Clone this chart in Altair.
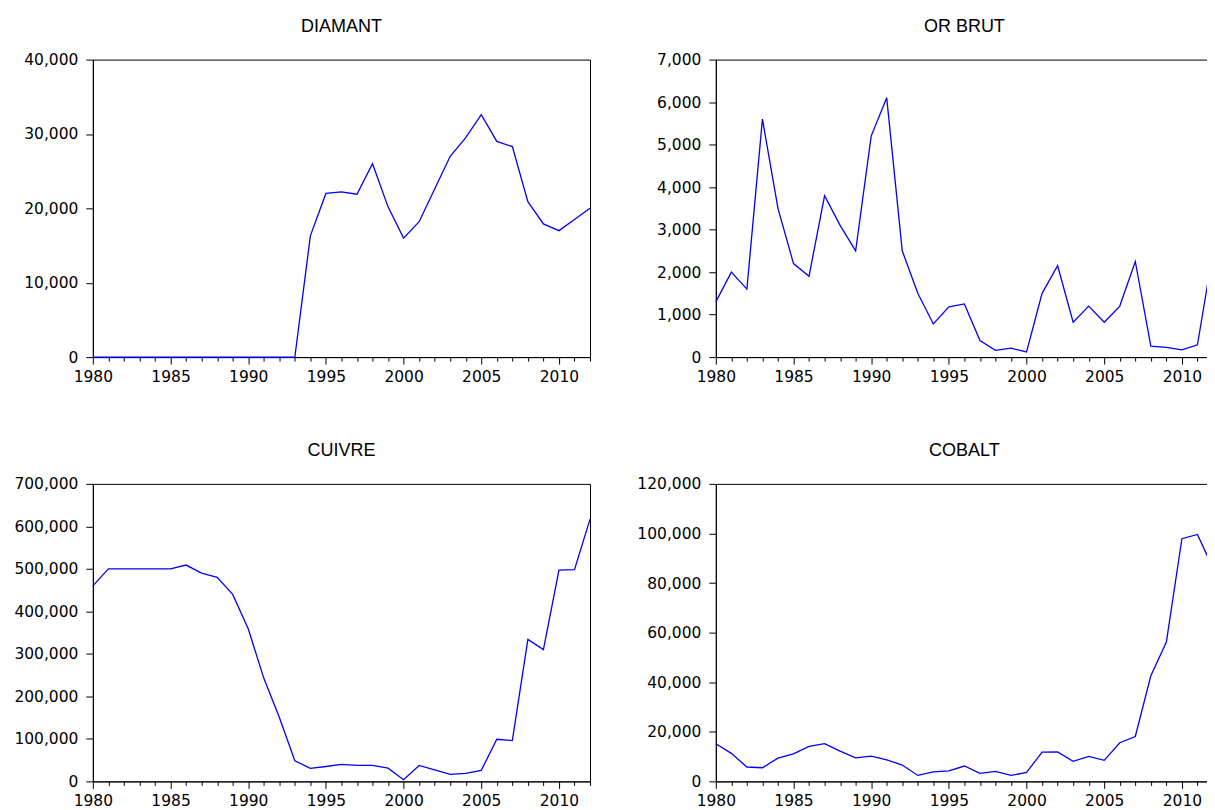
import altair as alt
import pandas as pd

YEARS = list(range(1980, 2013))

DIAMANT = [0, 0, 0, 0, 0, 0, 0, 0, 0, 0, 0, 0, 0, 0,
           16300, 22000, 22200, 21900, 26000, 20200, 16000, 18200, 22600, 27000,
           29500, 32600, 29000, 28300, 20900, 17900, 17000, 18500, 20000]

OR_BRUT = [1300, 2000, 1600, 5600, 3500, 2200, 1900, 3800, 3100, 2500,
           5200, 6100, 2500, 1500, 780, 1180, 1250, 390, 160, 210,
           120, 1500, 2150, 820, 1200, 820, 1200, 2250, 260, 230,
           170, 290, 2480]

CUIVRE = [460000, 500000, 500000, 500000, 500000, 500000, 509000, 490000, 480000, 440000,
          359000, 243000, 151000, 48600, 30600, 35000, 40000, 37600, 37600, 31000,
          4000, 37600, 27000, 16500, 19000, 26000, 99000, 96000, 334000, 310000,
          497000, 498000, 617000]

COBALT = [15200, 11300, 5800, 5500, 9400, 11100, 14100, 15200, 12200, 9500,
          10200, 8700, 6600, 2400, 3800, 4200, 6200, 3200, 4000, 2400,
          3600, 11800, 11900, 8100, 10100, 8500, 15600, 18100, 42600, 56200,
          97900, 99600, 86000]

TITLES = ["DIAMANT", "OR BRUT", "CUIVRE", "COBALT"]
SERIES = [DIAMANT, OR_BRUT, CUIVRE, COBALT]
YMAX = [40000, 7000, 700000, 120000]
YSTEP = [10000, 1000, 100000, 20000]


def panel(title, values, ymax, ystep):
    df = pd.DataFrame({"year": YEARS, "value": values})
    return (
        alt.Chart(
            df,
            title=alt.TitleParams(
                title, fontSize=18, font="Liberation Sans", fontWeight="normal",
                color="black", anchor="middle", baseline="alphabetic", offset=3,
            ),
        )
        .mark_line(color="#0000FF", strokeWidth=1.3)
        .encode(
            x=alt.X(
                "year:Q",
                title=None,
                scale=alt.Scale(domain=[1980, 2012], nice=False, zero=False),
                axis=alt.Axis(
                    values=YEARS,
                    format="d",
                    labelExpr="datum.value % 5 === 0 ? datum.label : ''",
                    labelFlush=False,
                    labelOverlap=False,
                    tickSize={"condition": {"test": "datum.value % 5 === 0", "value": 7}, "value": 4},
                    labelPadding=5,
                    grid=False,
                    labelFont="DejaVu Sans",
                    labelFontSize=15.5,
                    labelColor="black",
                    domainColor="black",
                    tickColor="black",
                ),
            ),
            y=alt.Y(
                "value:Q",
                title=None,
                scale=alt.Scale(domain=[0, ymax], nice=False),
                axis=alt.Axis(
                    values=list(range(0, ymax + 1, ystep)),
                    format=",.0f",
                    tickSize=7,
                    labelPadding=8,
                    grid=False,
                    labelFont="DejaVu Sans",
                    labelFontSize=15.5,
                    labelColor="black",
                    domainColor="black",
                    tickColor="black",
                ),
            ),
        )
        .properties(width=498, height=298)
    )


panels = [panel(t, s, m, st) for t, s, m, st in zip(TITLES, SERIES, YMAX, YSTEP)]

chart = (
    alt.concat(*panels, columns=2, spacing={"row": 127, "column": 126}, bounds="flush")
    .properties(padding={"left": 5, "top": 8, "right": -10, "bottom": 0}, background="white")
    .configure_view(stroke="black", strokeWidth=1)
)

chart.save("out.html", embed_options={"renderer": "svg", "actions": False})
